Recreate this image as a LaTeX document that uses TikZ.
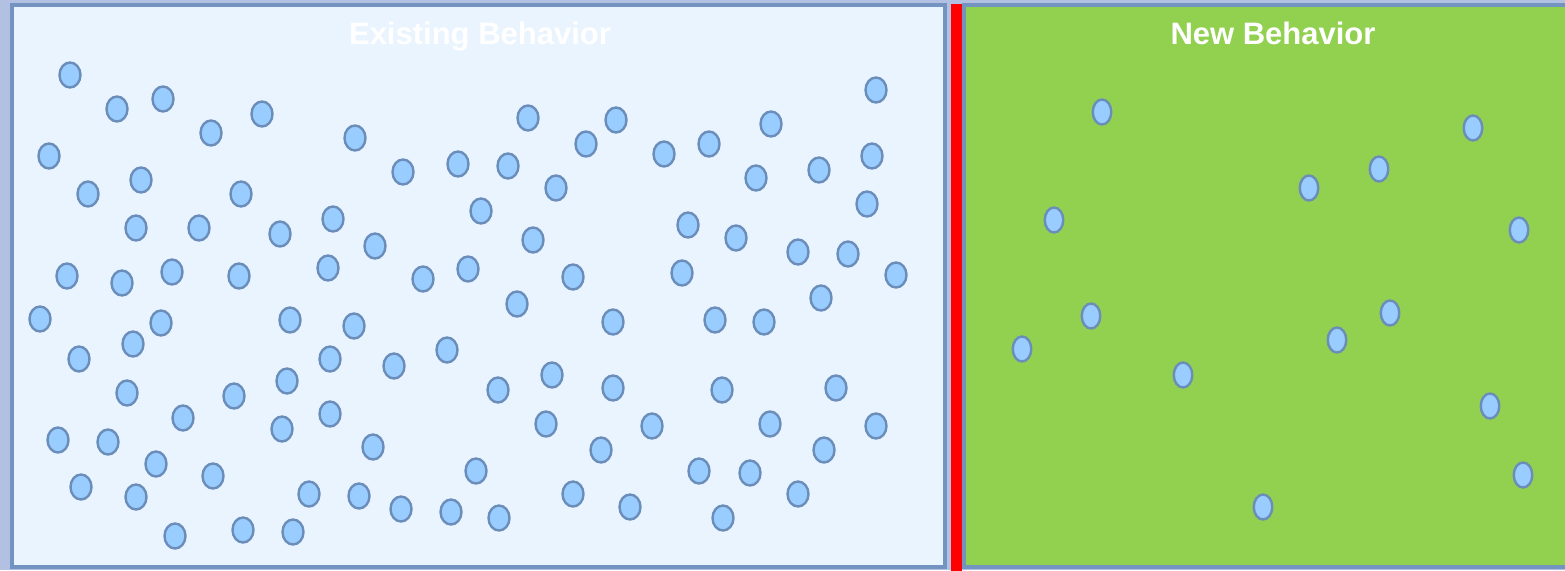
\documentclass[tikz,border=0pt]{standalone}
\usepackage{fontspec}
\setmainfont{Liberation Sans}
\usetikzlibrary{shapes.geometric}
\definecolor{outerbg}{HTML}{B2C0E1}
\definecolor{panelline}{HTML}{7394C0}
\definecolor{leftfill}{HTML}{EAF4FE}
\definecolor{greenfill}{HTML}{92D050}
\definecolor{dotfill}{HTML}{99CCFF}
\definecolor{dotline}{HTML}{6A8DBA}
\tikzset{
  ldot/.style={ellipse, draw=dotline, fill=dotfill, line width=2.4pt, inner sep=0pt, minimum width=21pt, minimum height=25pt},
  rdot/.style={ellipse, draw=dotline, fill=dotfill, line width=2.4pt, inner sep=0pt, minimum width=18.5pt, minimum height=25pt},
  panel/.style={draw=panelline, line width=3.5pt},
  title/.style={text=white, font=\bfseries\fontsize{31}{36}\selectfont, anchor=base, inner sep=0pt}
}
\begin{document}
\begin{tikzpicture}[x=1pt,y=-1pt]
\useasboundingbox (0,0) rectangle (1565,570);
\clip (0,0) rectangle (1565,570);
\fill[outerbg] (0,0) rectangle (1565,570);
\draw[panel, fill=leftfill] (12,5) rectangle (945,567);
\draw[panel, fill=greenfill] (964,5) rectangle (1590,567);
\fill[red] (951,4) rectangle (961.5,572);
\node[title] (t1) at (480,44) {Existing Behavior};
\node[title] (t2) at (1273,44) {New Behavior};
\foreach \x/\y [count=\i] in {70/75, 117/109, 163/99, 211/133, 262/114, 49/156, 88/194, 141/180, 241/194, 355/138, 403/172, 458/164, 508/166, 528/118, 586/144, 616/120, 556/188, 664/154, 709/144, 771/124, 756/178, 819/170, 876/90, 872/156, 867/204, 136/228, 199/228, 280/234, 333/219, 375/246, 481/211, 533/240, 688/225, 736/238, 798/252, 848/254, 896/275, 67/276, 122/283, 172/272, 239/276, 328/268, 423/279, 468/269, 573/277, 682/273, 821/298, 517/304, 40/319, 161/323, 290/320, 354/326, 613/322, 715/320, 764/322, 79/359, 133/344, 330/359, 394/366, 447/350, 127/393, 234/396, 287/381, 498/390, 552/375, 613/388, 722/390, 836/388, 58/440, 108/442, 183/418, 282/429, 330/414, 373/447, 546/424, 652/426, 770/424, 876/426, 81/487, 136/497, 156/464, 213/476, 309/494, 359/496, 401/509, 451/512, 476/471, 499/518, 573/494, 601/450, 630/507, 699/471, 750/473, 798/494, 824/450, 723/518, 175/536, 243/530, 293/532}
  \node[ldot] (l\i) at (\x,\y) {};
\foreach \x/\y [count=\i] in {1102/112, 1473/128, 1379/169, 1309/188, 1054/220, 1519/230, 1091/316, 1390/313, 1337/340, 1022/349, 1183/375, 1490/406, 1523/475, 1263/507}
  \node[rdot] (r\i) at (\x,\y) {};
\end{tikzpicture}
\end{document}
